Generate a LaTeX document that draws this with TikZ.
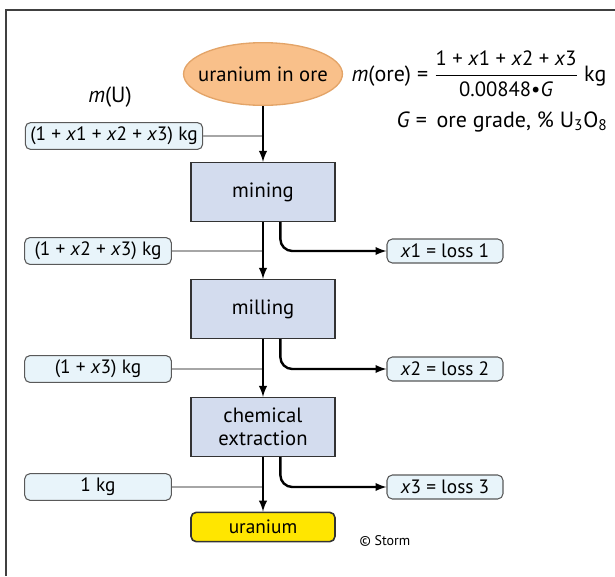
\documentclass[tikz,border=0pt]{standalone}
\usepackage{amsmath}
\usepackage{fontspec}
\setmainfont{PT Sans}
\usepackage{tikz}
\usetikzlibrary{shapes,arrows,positioning,calc}

\definecolor{orefill}{HTML}{F9C08A}
\definecolor{oreline}{HTML}{E3A468}
\definecolor{stepfill}{HTML}{D3DCEE}
\definecolor{tagfill}{HTML}{E8F4FA}
\definecolor{ufill}{HTML}{FFE600}

\tikzset{
  stepbox/.style={draw=black!80, line width=1.2pt, fill=stepfill, minimum width=108pt, minimum height=44pt, align=center, font=\fontsize{15.5}{17.5}\selectfont},
  tagbox/.style={draw=black!65, line width=0.8pt, fill=tagfill, rounded corners=4pt, minimum height=17pt, font=\fontsize{14.5}{16}\selectfont},
  flow/.style={->, line width=1.8pt},
  tie/.style={draw=black!35, line width=0.8pt},
}

\begin{document}
\begin{tikzpicture}[x=0.75pt, y=-0.75pt, >=latex]
\useasboundingbox (0,0) rectangle (615,576);
\draw[black!75, line width=1pt] (615,10) -- (6,10) -- (6,576);

% process chain
\node[ellipse, draw=oreline, line width=1pt, fill=orefill, inner xsep=-6.5pt, inner ysep=0pt, minimum width=119pt, minimum height=47pt, font=\fontsize{15.5}{17.5}\selectfont] (ore) at (263,74) {uranium in ore};
\node[stepbox] (mining) at (263,192) {mining};
\node[stepbox] (milling) at (263,309) {milling};
\node[stepbox] (chem) at (263,427) {chemical\\extraction};
\node[draw=black!80, line width=1.2pt, fill=ufill, rounded corners=4pt, minimum width=108pt, minimum height=22pt, font=\fontsize{14.5}{16}\selectfont] (uran) at (263,527) {uranium};

% mass of uranium
\node[font=\fontsize{16.5}{18}\selectfont] (mU) at (110,97) {\textit{m}(U)};
\node[tagbox, minimum width=133pt] (u0) at (114,136) {(1 + \textit{x}1 + \textit{x}2 + \textit{x}3) kg};
\node[tagbox, minimum width=110pt] (u1) at (98,251) {(1 + \textit{x}2 + \textit{x}3) kg};
\node[tagbox, minimum width=110pt] (u2) at (98,369) {(1 + \textit{x}3) kg};
\node[tagbox, minimum width=110pt] (u3) at (98,487) {1 kg};

% losses
\node[tagbox, minimum width=87pt, minimum height=18pt] (loss1) at (445,251) {\textit{x}1 = loss 1};
\node[tagbox, minimum width=87pt, minimum height=18pt] (loss2) at (445,369) {\textit{x}2 = loss 2};
\node[tagbox, minimum width=87pt, minimum height=18pt] (loss3) at (445,487) {\textit{x}3 = loss 3};

% formula
\node[anchor=west, font=\fontsize{16.5}{18}\selectfont] (form) at (347,74)
  {\textit{m}(ore) = $\dfrac{\text{\fontsize{15.5}{17}\selectfont 1 + \textit{x}1 + \textit{x}2 + \textit{x}3}}{\text{\fontsize{15.5}{17}\selectfont 0.00848\textbullet\textit{G}}}$ kg};
\node[font=\fontsize{16.5}{18}\selectfont] (grade) at (502,122) {\textit{G} = \,ore grade, \% U\textsubscript{3}O\textsubscript{8}};
\node[font=\fontsize{10.5}{12}\selectfont] (storm) at (385,541) {\textcopyright\ Storm};

\draw[tie] (u0.east) -- (u0.east -| ore.south);
\draw[tie] (u1.east) -- (u1.east -| mining.south);
\draw[tie] (u2.east) -- (u2.east -| milling.south);
\draw[tie] (u3.east) -- (u3.east -| chem.south);

\draw[flow] (ore) -- (mining);
\draw[flow] (mining) -- (milling);
\draw[flow] (milling) -- (chem);
\draw[flow] (chem) -- (uran);

\draw[flow, rounded corners=9pt] ([xshift=13pt]mining.south) |- (loss1);
\draw[flow, rounded corners=9pt] ([xshift=13pt]milling.south) |- (loss2);
\draw[flow, rounded corners=9pt] ([xshift=13pt]chem.south) |- (loss3);
\end{tikzpicture}
\end{document}
